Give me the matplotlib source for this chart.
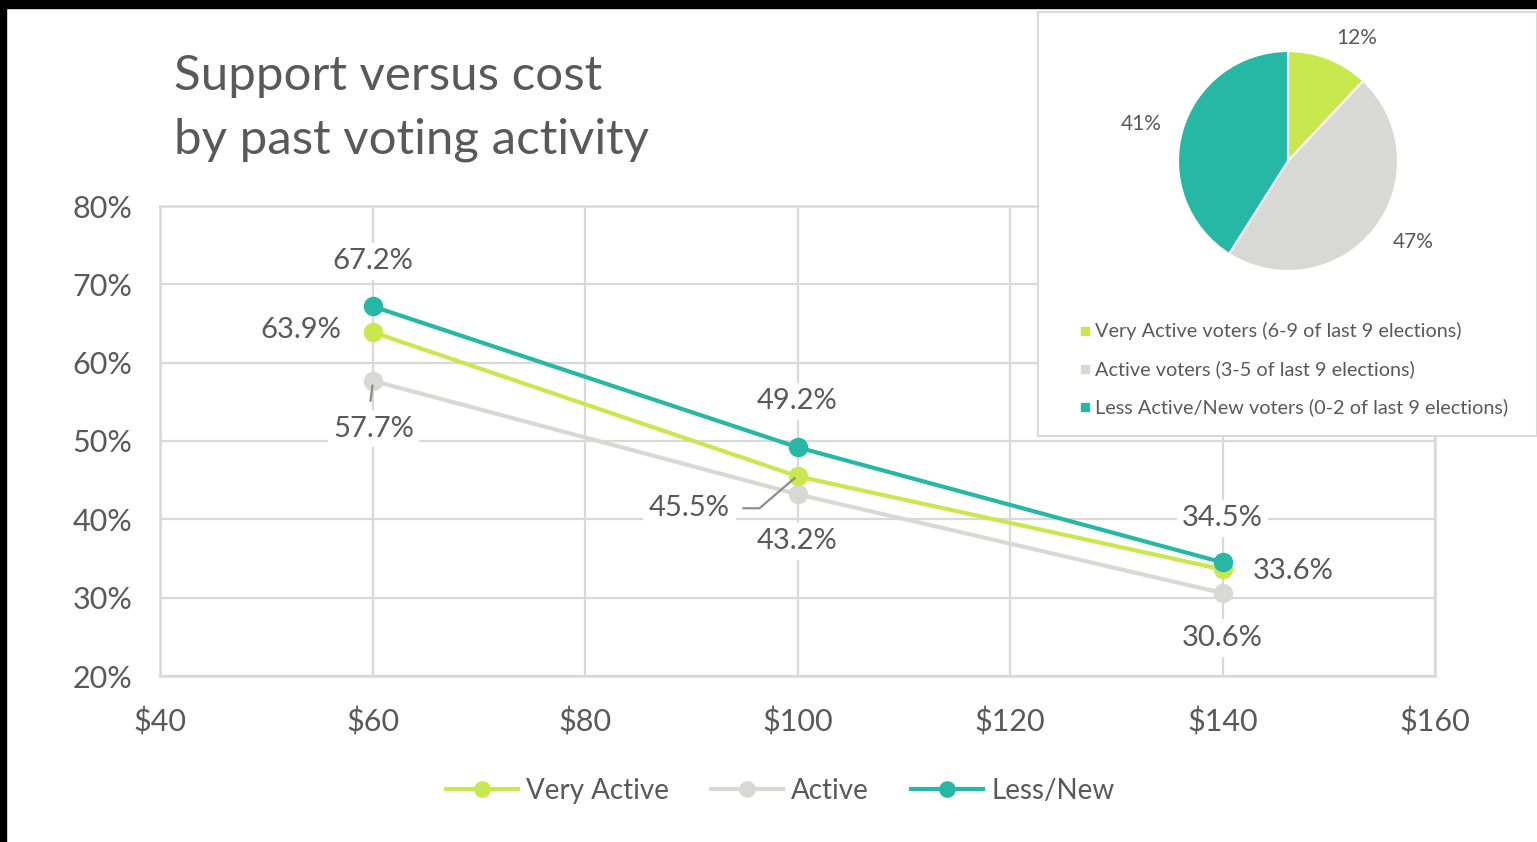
import matplotlib
matplotlib.use("Agg")
import matplotlib.pyplot as plt
from matplotlib.patches import Rectangle
from matplotlib.lines import Line2D

# Data
prices = [60, 100, 140]
very_active = [63.9, 45.5, 33.6]
active = [57.7, 43.2, 30.6]
less_new = [67.2, 49.2, 34.5]
series_names = ["Very Active", "Active", "Less/New"]

pie_shares = [12, 47, 41]
pie_labels = ["Very Active voters (6-9 of last 9 elections)",
              "Active voters (3-5 of last 9 elections)",
              "Less Active/New voters (0-2 of last 9 elections)"]

x_ticks = [40, 60, 80, 100, 120, 140, 160]
y_ticks = [20, 30, 40, 50, 60, 70, 80]

c_va = "#C9E84E"
c_a = "#D8D8D5"
c_ln = "#26B8A5"
grid_c = "#D9D9D9"
text_c = "#595959"
lead_c = "#8C8C8C"

plt.rcParams["font.family"] = ["Lato", "DejaVu Sans"]

W, H = 1537, 842
fig = plt.figure(figsize=(W / 100, H / 100), dpi=100)
fig.patch.set_facecolor("white")

# black frame bits from the screenshot
fig.patches.append(Rectangle((0, 1 - 8 / H), 1, 8 / H, transform=fig.transFigure,
                             color="black", zorder=0))
fig.patches.append(Rectangle((0, 0), 6 / W, 1, transform=fig.transFigure,
                             color="black", zorder=0))

# main line chart
ax = fig.add_axes([160 / W, 1 - 676 / H, (1435 - 160) / W, (676 - 206) / H])
ax.set_xlim(40, 160)
ax.set_ylim(20, 80)
ax.set_xticks(x_ticks)
ax.set_yticks(y_ticks)
ax.set_xticklabels([f"${v}" for v in x_ticks])
ax.set_yticklabels([f"{v}%" for v in y_ticks])
ax.tick_params(length=0, labelsize=22, colors=text_c)
ax.tick_params(axis="x", pad=23)
ax.tick_params(axis="y", pad=20)
ax.grid(True, color=grid_c, linewidth=1.6)
ax.set_axisbelow(True)
for s in ax.spines.values():
    s.set_color(grid_c)
    s.set_linewidth(1.8)

for vals, col, name in [(active, c_a, "Active"), (very_active, c_va, "Very Active"),
                        (less_new, c_ln, "Less/New")]:
    ax.plot(prices, vals, color=col, linewidth=3, marker="o", markersize=13,
            label=name, zorder=3)

bbox = dict(facecolor="white", edgecolor="none", pad=4)
lab_kw = dict(fontsize=21, color=text_c, bbox=bbox, zorder=4)

def lab(x, y, dx, dy):
    ax.annotate(f"{y:.1f}%", (x, y), xytext=(dx, dy), textcoords="offset pixels",
                ha="center", va="center", **lab_kw)

def leader(x, y, offsets):
    # polyline in pixel offsets from a data point
    px, py = ax.transData.transform((x, y))
    xs = [px + dx for dx, dy in offsets]
    ys = [py + dy for dx, dy in offsets]
    fig.add_artist(Line2D(xs, ys, transform=None, color=lead_c, lw=1.6, zorder=5))

# $60
lab(prices[0], less_new[0], 0, 45)
lab(prices[0], very_active[0], -72, 2)
lab(prices[0], active[0], 1, -48)
leader(prices[0], active[0], [(0, -5), (-2, -20)])
# $100
lab(prices[1], less_new[1], 0, 46)
lab(prices[1], very_active[1], -108, -32)
leader(prices[1], very_active[1], [(-54, -32), (-38, -32), (-3, -2)])
lab(prices[1], active[1], 0, -47)
# $140
lab(prices[2], less_new[2], 0, 44)
lab(prices[2], very_active[2], 71, -2)
lab(prices[2], active[2], 0, -45)

handles = [Line2D([], [], color=c, lw=3, marker="o", markersize=11)
           for c in (c_va, c_a, c_ln)]
fig.legend(handles, series_names, loc="center", bbox_to_anchor=(780 / W, 1 - 791 / H),
           ncol=3, frameon=False, fontsize=20, labelcolor=text_c, handlelength=2.6,
           handletextpad=0.3, columnspacing=1.5)

# title
fig.text(174 / W, 1 - 76 / H, "Support versus cost", fontsize=35.5, color=text_c,
         va="center", ha="left")
fig.text(174 / W, 1 - 140 / H, "by past voting activity", fontsize=35.5, color=text_c,
         va="center", ha="left")

# inset pie box
fig.patches.append(Rectangle((1038 / W, 1 - 436 / H), (W - 1038) / W, (436 - 12) / H,
                             transform=fig.transFigure, facecolor="white",
                             edgecolor="#D9D9D9", linewidth=1.5, zorder=5))
r = 110
pax = fig.add_axes([(1288 - r) / W, 1 - (161 + r) / H, 2 * r / W, 2 * r / H], zorder=6)
wedges, texts = pax.pie(pie_shares, colors=[c_va, c_a, c_ln], startangle=90,
                        counterclock=False,
                        wedgeprops=dict(edgecolor="white", linewidth=1.5),
                        labels=[f"{v}%" for v in pie_shares], labeldistance=1.2,
                        textprops=dict(fontsize=15, color=text_c))
pax.set_xlim(-1, 1)
pax.set_ylim(-1, 1)
pax.set_aspect("equal")
for t in texts:
    t.set_clip_on(False)

for i, (lbl, col) in enumerate(zip(pie_labels, [c_va, c_a, c_ln])):
    y = 1 - (331 + 38 * i) / H
    fig.patches.append(Rectangle((1081 / W, y - 4 / H), 8 / W, 8 / H,
                                 transform=fig.transFigure, color=col, zorder=7))
    fig.text(1095 / W, y, lbl, fontsize=14.3, color=text_c, va="center", ha="left",
             zorder=7)

fig.savefig("out.png", dpi=100)
